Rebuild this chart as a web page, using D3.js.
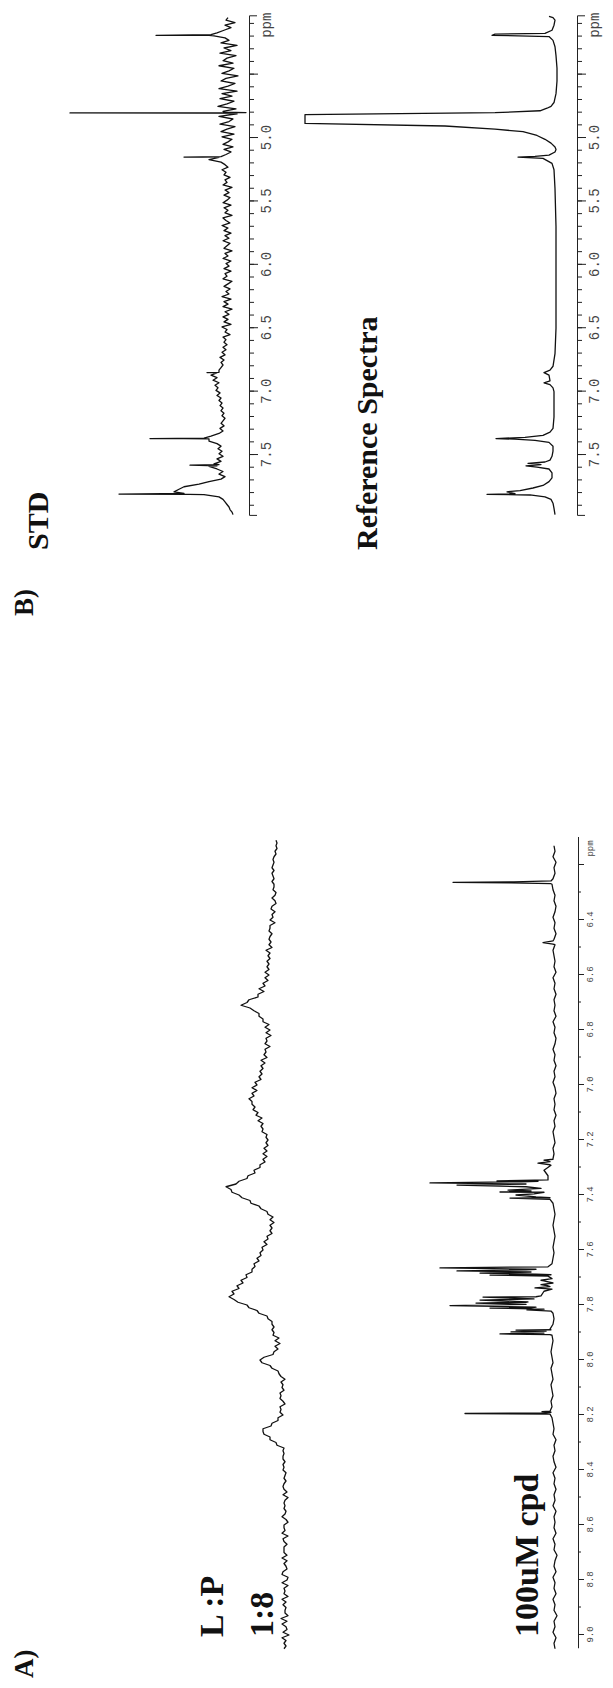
<!DOCTYPE html>
<html>
<head>
<meta charset="utf-8">
<script src="https://cdn.jsdelivr.net/npm/d3@7"></script>
<style>
  body { margin: 0; background: #fff; }
  svg { display: block; background: #fff; }
  .trace { fill: none; stroke: #111; stroke-width: 1.3; stroke-linejoin: round; }
  .axis path, .axis line { stroke: #222; stroke-width: 1; }
  .big { font-family: "Liberation Serif", "Times New Roman", serif; font-weight: bold; fill: #111; }
  .tick-label { font-family: "Liberation Mono", monospace; fill: #444; }
</style>
</head>
<body>
<div id="chart"></div>
<script>
// Panel A, "L :P 1:8" trace, one value every 0.01 ppm from 9.05 down
var lpStart = 9.05, lpStep = 0.01;
var lpValues = [
  3,1,3,1,5,-2,4,0,1,5,          // 9.05
  0,6,-1,2,2,1,4,1,5,-1,         // 8.95
  3,2,3,-1,5,0,-1,5,4,0,         // 8.85
  1,3,0,5,0,3,3,3,0,3,           // 8.75
  4,-1,5,2,3,3,-1,1,5,2,         // 8.65
  1,3,2,3,2,-1,4,0,3,4,          // 8.55
  3,1,3,2,1,4,3,4,2,4,           // 8.45
  4,3,4,3,10,11,17,17,23,24,     // 8.35
  24,16,15,9,9,4,7,6,7,2,        // 8.25
  4,7,6,7,3,5,4,6,2,6,           // 8.15
  8,9,15,17,25,27,23,14,13,9,    // 8.05
  12,7,12,8,14,13,15,13,15,15,   // 7.95
  19,20,28,30,38,40,49,53,58,53, // 7.85
  55,48,50,44,46,40,41,35,35,32, // 7.75
  33,28,30,26,27,24,25,20,23,19, // 7.65
  20,15,17,15,17,13,17,14,19,20, // 7.55
  26,28,36,37,45,48,55,56,61,51, // 7.45
  48,40,39,32,33,27,27,22,24,20, // 7.35
  24,20,23,19,21,19,21,20,25,24, // 7.25
  26,24,29,25,31,29,34,32,35,35, // 7.15
  38,33,35,30,35,30,32,26,28,25, // 7.05
  27,24,26,22,26,20,23,21,22,17, // 6.95
  22,20,21,16,21,17,22,18,24,24, // 6.85
  28,28,33,37,46,40,38,29,29,23, // 6.75
  28,22,24,19,22,18,22,18,20,18, // 6.65
  20,17,19,17,21,15,18,16,18,17, // 6.55
  15,18,17,17,12,17,14,15,12,16, // 6.45
  15,11,12,15,12,11,14,13,13,15, // 6.35
  13,14,15,13,15,14,13,14,13,11, // 6.25
  12,10,11,10,11                 // 6.15
];

// Panel A, "100uM cpd": baseline every 0.02 ppm, plus the sharp lines
var cpdStart = 9.05, cpdStep = 0.02;
var cpdBase = [
  1,2,0,3,1,2,-1,2,1,3,     // 9.05
  0,2,1,3,0,2,1,-1,2,1,     // 8.85
  3,0,2,1,2,0,3,1,2,0,      // 8.65
  2,1,3,0,2,3,1,2,0,3,      // 8.45
  2,3,4,5,4,5,3,4,5,3,      // 8.25
  4,5,3,4,5,4,3,4,5,3,      // 8.05
  2,3,25,30,20,12,8,15,5,20, // 7.85
  4,3,2,3,2,1,2,3,2,1,      // 7.65
  2,3,6,12,30,18,8,12,6,3,  // 7.45
  2,3,1,2,3,1,2,0,2,1,      // 7.25
  2,0,1,3,1,2,0,2,1,3,      // 7.05
  1,0,2,1,3,0,2,1,2,0,      // 6.85
  2,1,3,0,2,1,2,3,1,2,      // 6.65
  0,2,1,3,1,0,2,1,3,4,      // 6.45
  3,1,2,0,3,1,2             // 6.25
];
var cpdLines = [
  [8.197,6],[8.1945,91],[8.192,10],[8.188,14],[8.186,6],
  [7.908,6],[7.905,56],[7.902,12],[7.898,45],[7.895,10],[7.891,40],[7.888,6],
  [7.822,5],[7.818,29],[7.815,12],[7.811,66],[7.808,20],[7.802,106],[7.798,30],
  [7.793,80],[7.789,28],[7.782,76],[7.778,22],[7.771,73],[7.767,15],
  [7.742,4],[7.738,21],[7.733,6],[7.726,15],[7.72,3],[7.712,12],[7.704,4],
  [7.695,8],[7.691,66],[7.688,20],[7.684,76],[7.68,25],[7.676,99],[7.672,30],[7.665,116],[7.661,8],
  [7.416,6],[7.411,46],[7.407,20],[7.40,40],[7.396,22],[7.389,56],[7.385,25],[7.382,48],[7.376,15],
  [7.364,99],[7.36,30],[7.356,126],[7.352,35],[7.349,59],[7.345,8],
  [7.292,5],[7.284,18],[7.279,6],[7.273,12],[7.268,3],
  [6.488,3],[6.482,13],[6.476,3],
  [6.268,5],[6.265,45],[6.263,103],[6.261,42],[6.258,5]
];

// Panel B, STD trace: every 0.02 ppm from 7.97 down, plus the sharp lines
var stdStart = 7.97, stdStep = 0.02;
var stdBase = [
  -4,-3,-1,0,2,4,6,10,40,55,   // 7.97
  50,45,30,20,8,4,10,6,12,20,  // 7.77
  15,8,12,6,10,7,11,8,12,20,   // 7.57
  45,18,10,6,9,5,8,6,4,7,      // 7.37
  5,8,6,9,7,10,8,12,9,13,      // 7.17
  11,14,10,16,12,18,20,10,8,6, // 6.97
  8,5,9,4,7,3,6,2,5,3,         // 6.77
  6,-1,4,2,7,-2,5,1,6,0,       // 6.57
  4,-3,6,1,5,-2,7,0,3,-1,      // 6.37
  5,1,-3,6,2,4,-2,5,0,3,       // 6.17
  -2,6,1,4,-3,5,2,-1,6,0,      // 5.97
  4,-2,5,1,7,-1,3,6,-3,4,      // 5.77
  1,5,-2,6,2,-1,5,0,4,-3,      // 5.57
  6,2,4,-1,5,3,7,1,4,8,        // 5.37
  20,12,3,-2,5,-4,6,1,-3,7,    // 5.17
  -5,8,2,-6,9,0,-4,10,-8,6,    // 4.97
  -7,11,2,-5,9,-3,7,-8,10,1,   // 4.77
  -6,8,3,-9,7,0,-5,10,-4,6,    // 4.57
  2,-7,9,-2,5,-8,8,0,4,20,     // 4.37
  12,5,-2,4,-6,3,1             // 4.17
];
var stdLines = [
  [7.812,25],[7.808,110],[7.803,45],
  [7.585,12],[7.58,39],[7.575,10],
  [7.373,20],[7.37,79],[7.366,25],
  [6.852,12],[6.85,22],[6.848,10],
  [5.153,10],[5.15,45],[5.147,8],
  [4.805,5],[4.802,159],[4.799,-17],[4.796,4],
  [4.195,15],[4.19,73],[4.185,18]
];

// Panel B, reference spectrum (smooth), [ppm, intensity]
var refPoints = [
  [7.97,0],[7.92,1],[7.88,2],[7.85,4],[7.83,10],[7.815,25],[7.81,68],[7.805,40],[7.79,48],[7.78,35],
  [7.76,22],[7.74,12],[7.71,6],[7.68,3],[7.64,3],[7.61,6],[7.595,18],[7.585,29],[7.575,14],[7.565,27],
  [7.555,10],[7.54,5],[7.51,3],[7.47,2],[7.43,2],[7.40,6],[7.385,20],[7.375,40],[7.37,59],[7.36,30],
  [7.345,12],[7.32,5],[7.29,2],[7.20,1],[7.10,1],[7.00,1],[6.97,2],[6.945,5],[6.93,11],[6.915,5],
  [6.87,6],[6.85,11],[6.83,5],[6.80,2],[6.70,0],[6.50,-1],[6.30,-1],[6.00,-1],[5.70,-1],[5.40,0],
  [5.25,1],[5.20,3],[5.16,12],[5.15,37],[5.145,20],[5.135,6],[5.11,0],[5.09,-1],[5.07,0],[5.04,4],
  [5.01,10],[4.98,18],[4.95,32],[4.93,60],[4.905,110],[4.885,250],[4.815,250],[4.80,60],[4.785,15],
  [4.765,8],[4.75,4],[4.72,1],[4.65,-1],[4.55,-2],[4.45,-2],[4.35,-1],[4.28,0],[4.23,2],[4.20,6],
  [4.19,63],[4.18,60],[4.175,10],[4.15,3],[4.11,1],[4.07,0],[4.05,2],[4.04,6]
];

var ticksA = [9.0, 8.8, 8.6, 8.4, 8.2, 8.0, 7.8, 7.6, 7.4, 7.2, 7.0, 6.8, 6.6, 6.4];
var ticksB = [7.5, 7.0, 6.5, 6.0, 5.5, 5.0];

// ---- layout: the figure is drawn in landscape and turned a quarter ----
var W = 613, H = 1688;
var svg = d3.select("#chart").append("svg")
    .attr("width", W)
    .attr("height", H);
var g = svg.append("g")
    .attr("transform", "translate(0," + H + ") rotate(-90)");

// ppm scales (landscape x)
var xA = d3.scaleLinear().domain([9.05, 6.10]).range([39.25, 850.5]);
var xB = d3.scaleLinear().domain([7.98, 4.04]).range([1172.1, 1671.7]);

function yFor(base){
  return d3.scaleLinear().domain([0, 100]).range([base, base - 100]);
}

function gridPoints(start, step, vals){
  return vals.map(function(v, i){ return [+(start - i * step).toFixed(4), v]; });
}

function drawTrace(pts, x, y){
  var line = d3.line()
    .x(function(d){ return x(d[0]); })
    .y(function(d){ return y(d[1]); });
  g.append("path").attr("class", "trace").attr("d", line(pts));
}

// traces
drawTrace(gridPoints(lpStart, lpStep, lpValues), xA, yFor(287));
var cpdPts = gridPoints(cpdStart, cpdStep, cpdBase).concat(cpdLines)
  .sort(function(a, b){ return b[0] - a[0]; });
drawTrace(cpdPts, xA, yFor(556));
var stdPts = gridPoints(stdStart, stdStep, stdBase).concat(stdLines)
  .sort(function(a, b){ return b[0] - a[0]; });
drawTrace(stdPts, xB, yFor(229));
drawTrace(refPoints, xB, yFor(555));

// axes
function drawAxis(x, yPos, major, labelled, minor, majorLen, minorLen, outer, fontSize, ppmAt){
  var minorAxis = d3.axisBottom(x).tickValues(minor).tickSize(minorLen).tickFormat("");
  var ma = g.append("g").attr("class", "axis").attr("transform", "translate(0," + yPos + ")").call(minorAxis);
  ma.select(".domain").remove();

  var majorAxis = d3.axisBottom(x).tickValues(major).tickSize(majorLen).tickSizeOuter(outer)
    .tickFormat(function(d){ return labelled.indexOf(d) >= 0 ? d.toFixed(1) : ""; });
  var axG = g.append("g").attr("class", "axis").attr("transform", "translate(0," + yPos + ")").call(majorAxis);
  axG.selectAll("text")
    .attr("class", "tick-label")
    .attr("y", majorLen + 3)
    .style("font-size", fontSize + "px");

  axG.append("text")
    .attr("class", "tick-label")
    .attr("x", x(ppmAt))
    .attr("y", majorLen + 3)
    .attr("dy", "0.71em")
    .attr("text-anchor", "middle")
    .style("font-size", fontSize + "px")
    .text("ppm");
}

drawAxis(xA, 578, ticksA.concat([6.2]), ticksA, d3.range(6.3, 9.01, 0.2), 6, 3, 0, 9, 6.14);
drawAxis(xB, 249, ticksB.concat([4.5]), ticksB, d3.range(4.1, 7.95, 0.1), 9, 5, 8, 14, 4.11);
drawAxis(xB, 577, ticksB.concat([4.5]), ticksB, d3.range(4.1, 7.95, 0.1), 9, 5, 8, 14, 4.11);

// labels
var labels = [
  { t: "A)", x: 10, y: 33, s: 27 },
  { t: "L :P", x: 51, y: 223, s: 34 },
  { t: "1:8", x: 51, y: 273, s: 34 },
  { t: "100uM cpd", x: 51, y: 538, s: 34 },
  { t: "B)", x: 1072, y: 33, s: 27 },
  { t: "STD", x: 1138, y: 48, s: 30 },
  { t: "Reference Spectra", x: 1138, y: 377, s: 30 }
];
g.selectAll("text.big").data(labels).enter().append("text")
  .attr("class", "big")
  .attr("x", function(d){ return d.x; })
  .attr("y", function(d){ return d.y; })
  .style("font-size", function(d){ return d.s + "px"; })
  .text(function(d){ return d.t; });
</script>
</body>
</html>
